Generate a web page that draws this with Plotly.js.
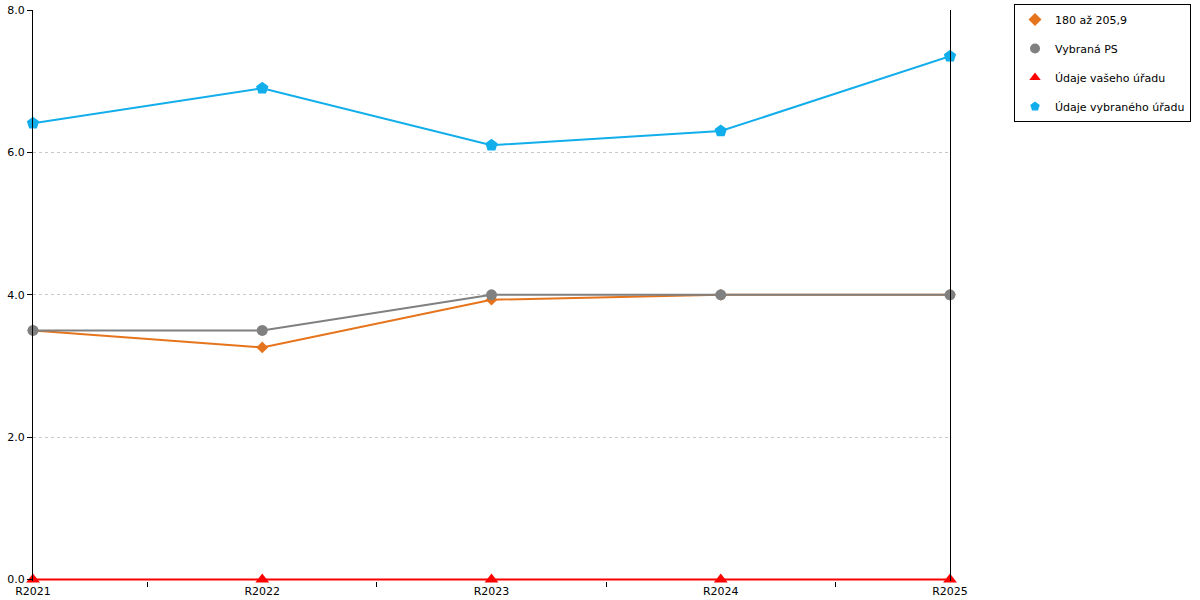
<!DOCTYPE html>
<html>
<head>
<meta charset="utf-8">
<script src="https://cdn.plot.ly/plotly-3.0.1.min.js"></script>
<style>html,body{margin:0;padding:0;background:#fff;}#chart{width:1200px;height:600px;}</style>
</head>
<body>
<div id="chart"></div>
<script>
const categories = ["R2021", "R2022", "R2023", "R2024", "R2025"];
const seriesNames = ["180 až 205,9", "Vybraná PS", "Údaje vašeho úřadu", "Údaje vybraného úřadu"];
const rangeValues = [3.5, 3.26, 3.93, 4.0, 4.0];
const selectedPS = [3.5, 3.5, 4.0, 4.0, 4.0];
const yourOffice = [0, 0, 0, 0, 0];
const selectedOffice = [6.41, 6.9, 6.1, 6.3, 7.35];
const yTicks = [0, 2, 4, 6, 8];
const yTickLabels = ["0.0", "2.0", "4.0", "6.0", "8.0"];

const colors = ["#E5741C", "#808080", "#FF0000", "#12AEEB"];
const symbols = ["diamond", "circle", "triangle-up", "pentagon"];
const sizes = [9, 11, 12, 13];
const data = [rangeValues, selectedPS, yourOffice, selectedOffice];

const traces = [];
data.forEach((vals, i) => {
  traces.push({
    x: categories, y: vals, type: "scatter", mode: "lines+markers",
    name: seriesNames[i], showlegend: false, cliponaxis: false,
    line: {color: colors[i], width: 2},
    marker: {color: colors[i], symbol: symbols[i], size: sizes[i]},
    hoverinfo: "x+y+name"
  });
});
data.forEach((vals, i) => {
  traces.push({
    x: [categories[0]], y: [null], type: "scatter", mode: "markers",
    name: seriesNames[i], legendgroup: "g" + i, showlegend: true,
    marker: {color: colors[i], symbol: symbols[i], size: 10}
  });
});

const layout = {
  width: 1200, height: 600,
  margin: {l: 33, r: 250, t: 10, b: 18.5, autoexpand: false},
  paper_bgcolor: "#fff", plot_bgcolor: "#fff",
  font: {family: "DejaVu Sans, Verdana, sans-serif", size: 11, color: "#000"},
  xaxis: {
    type: "category", range: [0, 4], showgrid: false, zeroline: false,
    showline: false, ticks: "outside", ticklen: 5, tickcolor: "#000",
    tickson: "boundaries", tickfont: {size: 11}, ticklabelstandoff: 2,
    fixedrange: true
  },
  yaxis: {
    range: [-0.02, 8], tickvals: yTicks, ticktext: yTickLabels,
    showgrid: true, gridcolor: "#c8c8c8", griddash: "dot", gridwidth: 1,
    zeroline: false, showline: true, linecolor: "#000", linewidth: 1,
    mirror: true, ticks: "outside", ticklen: 5, tickcolor: "#000",
    tickfont: {size: 11}, fixedrange: true
  },
  showlegend: true,
  legend: {
    x: 1.0698, xanchor: "left", y: 1.0105, yanchor: "top",
    bordercolor: "#000", borderwidth: 1, bgcolor: "#fff",
    font: {size: 11}, tracegroupgap: 10, traceorder: "grouped"
  }
};
Plotly.newPlot("chart", traces, layout, {displayModeBar: false, staticPlot: true});
</script>
</body>
</html>
